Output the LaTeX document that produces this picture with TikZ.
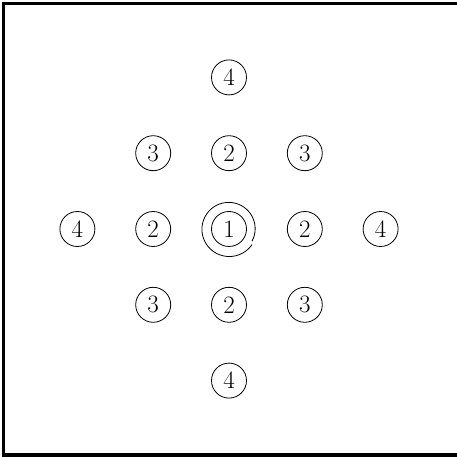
\documentclass[tikz,border=0pt]{standalone}
\usetikzlibrary{positioning,calc}

\begin{document}
\begin{tikzpicture}[
  x=1pt, y=1pt,
  num/.style   = {circle, draw, line width=0.8pt, minimum size=35pt,
                  inner sep=0pt, font=\fontsize{25}{30}\selectfont},
  loopln/.style = {line width=0.8pt},
  frame/.style = {line width=3.5pt},
]
\useasboundingbox (-229,-228) rectangle (227,229);

%── Outer frame (right side falls off the page) ──────────────────────────────
\draw[frame] (240,225.5) -- (-225.5,225.5) -- (-225.5,-226) -- (240,-226);

%── Centre and the cross ──────────────────────────────────────────────────────
\node[num] (c) at (0,0) {1};
\node[num, above=40pt of c]  (u2) {2};
\node[num, below=40pt of c]  (d2) {2};
\node[num, left=40pt of c]   (l2) {2};
\node[num, right=40pt of c]  (r2) {2};
\node[num, above=40pt of u2] (u4) {4};
\node[num, below=40pt of d2] (d4) {4};
\node[num, left=40pt of l2]  (l4) {4};
\node[num, right=40pt of r2] (r4) {4};

%── Diagonal neighbours ───────────────────────────────────────────────────────
\node[num] (ul3) at (u2 -| l2) {3};
\node[num] (ur3) at (u2 -| r2) {3};
\node[num] (dl3) at (d2 -| l2) {3};
\node[num] (dr3) at (d2 -| r2) {3};

%── Self loop round the centre ────────────────────────────────────────────────
\draw[loopln, shift={(c.center)}]
  plot[domain=-28:326, samples=90, smooth] ({\x}:{26+1.8*(\x+28)/354});

\end{tikzpicture}
\end{document}
